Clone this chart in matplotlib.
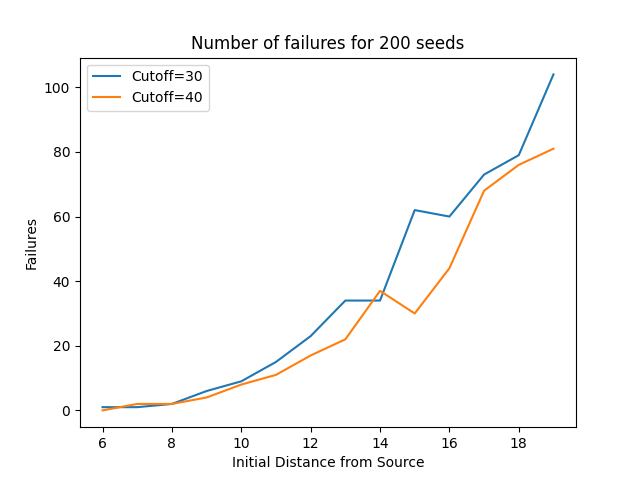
import matplotlib
matplotlib.use('Agg')
import matplotlib.pyplot as plt

# initial distance from source
distance = [6, 7, 8, 9, 10, 11, 12, 13, 14, 15, 16, 17, 18, 19]

# failures out of 200 seeds
fail_cutoff30 = [1, 1, 2, 6, 9, 15, 23, 34, 34, 62, 60, 73, 79, 104]
fail_cutoff40 = [0, 2, 2, 4, 8, 11, 17, 22, 37, 30, 44, 68, 76, 81]

fig, ax = plt.subplots(figsize=(6.4, 4.8), dpi=100)
ax.plot(distance, fail_cutoff30, label='Cutoff=30')
ax.plot(distance, fail_cutoff40, label='Cutoff=40')

ax.set_title('Number of failures for 200 seeds')
ax.set_xlabel('Initial Distance from Source')
ax.set_ylabel('Failures')
ax.legend()

fig.savefig('out.png')
